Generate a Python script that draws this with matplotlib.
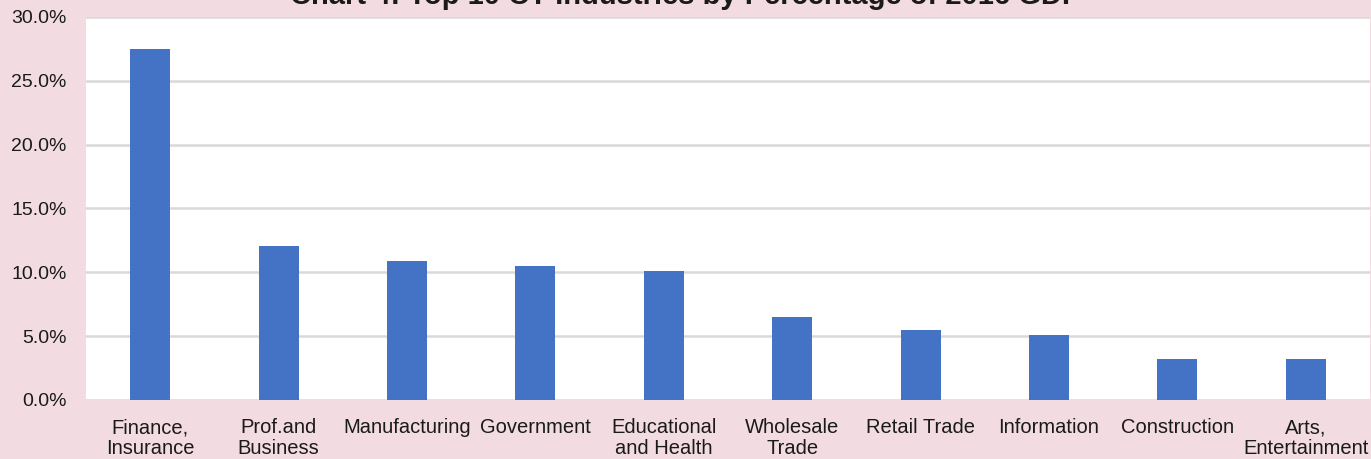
import matplotlib
matplotlib.use('Agg')
import matplotlib.pyplot as plt
from matplotlib.ticker import FuncFormatter, MultipleLocator

plt.rcParams['font.family'] = ['Liberation Sans', 'DejaVu Sans']

# data
industries = ['Finance,\nInsurance', 'Prof.and\nBusiness', 'Manufacturing', 'Government',
              'Educational\nand Health', 'Wholesale\nTrade', 'Retail Trade', 'Information',
              'Construction', 'Arts,\nEntertainment']
gdp_share = [0.275, 0.121, 0.109, 0.105, 0.101, 0.065, 0.055, 0.051, 0.032, 0.032]
title = 'Chart 4: Top 10 CT Industries by Percentage of 2016 GDP'

bg = '#F2DCE1'
bar_color = '#4472C4'
grid_color = '#D9D9D9'
text_color = '#1a1a1a'

fig = plt.figure(figsize=(13.71, 4.59), dpi=100, facecolor=bg)
ax = fig.add_axes([86 / 1371, 1 - 400 / 459, 1284 / 1371, 383 / 459])
ax.set_facecolor('white')

x = range(len(industries))
ax.bar(x, gdp_share, width=0.31, color=bar_color, zorder=3)

ax.set_xlim(-0.5, len(industries) - 0.5)
ax.set_ylim(0, 0.30)
ax.yaxis.set_major_locator(MultipleLocator(0.05))
ax.yaxis.set_major_formatter(FuncFormatter(lambda v, p: '%.1f%%' % (v * 100)))
ax.grid(axis='y', color=grid_color, linewidth=1.8, zorder=0)
ax.set_axisbelow(True)

for s in ax.spines.values():
    s.set_visible(False)

ax.set_xticks(list(x))
ax.set_xticklabels(industries, fontsize=14.5, color=text_color, linespacing=1.15)
ax.tick_params(axis='x', length=0, pad=13)
ax.tick_params(axis='y', length=0, pad=14, labelsize=14, labelcolor=text_color)

fig.text(0.5, 1 - 4.5 / 459, title, ha='center', va='baseline',
         fontsize=21, fontweight='bold', color=text_color)

fig.savefig('out.png', dpi=100, facecolor=bg)
